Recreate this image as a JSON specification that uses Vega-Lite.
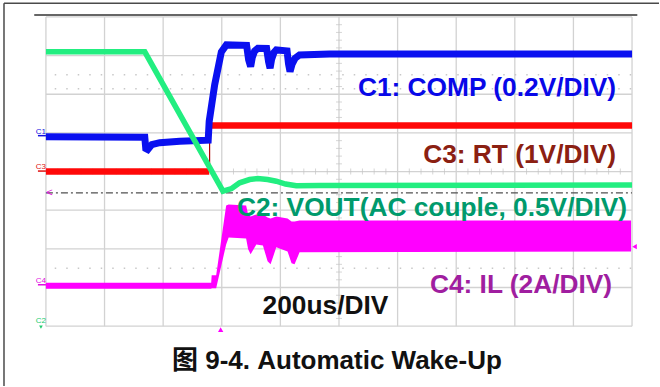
{
"$schema":"https://vega.github.io/schema/vega-lite/v6.json",
"width":660,"height":387,
"autosize":{"type":"fit","contains":"padding"},
"padding":0,
"background":"#ffffff",
"config":{"view":{"stroke":null}},
"encoding":{
 "x":{"field":"t","type":"quantitative","scale":{"domain":[-156.73,2092.0],"nice":false,"zero":false},"axis":null},
 "y":{"field":"d","type":"quantitative","scale":{"domain":[-5.548,4.439],"nice":false,"zero":false},"axis":null}
},
"layer":[
 {"data":{"values":[{"t":-143.1,"t2":2092,"d":4.354}]},"mark":{"type":"rule","color":"#4a4a4a","strokeWidth":1.5},"encoding":{"x2":{"field":"t2"}}},
 {"data":{"values":[{"t":-143.1,"d":4.354,"d2":-5.548}]},"mark":{"type":"rule","color":"#4a4a4a","strokeWidth":1.5},"encoding":{"y2":{"field":"d2"}}},
 {"data":{"values":[{"t":-39.9,"t2":2018,"d":4.052}]},"mark":{"type":"rule","color":"#333333","strokeWidth":1.5},"encoding":{"x2":{"field":"t2"}}},
 {"data":{"values":[{"t":0,"d":-4,"d2":4},{"t":200,"d":-4,"d2":4},{"t":400,"d":-4,"d2":4},{"t":600,"d":-4,"d2":4},{"t":800,"d":-4,"d2":4},{"t":1000,"d":-4,"d2":4},{"t":1200,"d":-4,"d2":4},{"t":1400,"d":-4,"d2":4},{"t":1600,"d":-4,"d2":4},{"t":1800,"d":-4,"d2":4},{"t":2000,"d":-4,"d2":4}]},"mark":{"type":"rule","color":"#d2d2d2","strokeWidth":1.3},"encoding":{"y2":{"field":"d2"}}},
 {"data":{"values":[{"t":0,"t2":2000,"d":-4},{"t":0,"t2":2000,"d":-3},{"t":0,"t2":2000,"d":-2},{"t":0,"t2":2000,"d":-1},{"t":0,"t2":2000,"d":0},{"t":0,"t2":2000,"d":1},{"t":0,"t2":2000,"d":2},{"t":0,"t2":2000,"d":3},{"t":0,"t2":2000,"d":4}]},"mark":{"type":"rule","color":"#d2d2d2","strokeWidth":1.3},"encoding":{"x2":{"field":"t2"}}},
 {"data":{"values":[{"t":40,"d":0},{"t":80,"d":0},{"t":120,"d":0},{"t":160,"d":0},{"t":240,"d":0},{"t":280,"d":0},{"t":320,"d":0},{"t":360,"d":0},{"t":440,"d":0},{"t":480,"d":0},{"t":520,"d":0},{"t":560,"d":0},{"t":640,"d":0},{"t":680,"d":0},{"t":720,"d":0},{"t":760,"d":0},{"t":840,"d":0},{"t":880,"d":0},{"t":920,"d":0},{"t":960,"d":0},{"t":1040,"d":0},{"t":1080,"d":0},{"t":1120,"d":0},{"t":1160,"d":0},{"t":1240,"d":0},{"t":1280,"d":0},{"t":1320,"d":0},{"t":1360,"d":0},{"t":1440,"d":0},{"t":1480,"d":0},{"t":1520,"d":0},{"t":1560,"d":0},{"t":1640,"d":0},{"t":1680,"d":0},{"t":1720,"d":0},{"t":1760,"d":0},{"t":1840,"d":0},{"t":1880,"d":0},{"t":1920,"d":0},{"t":1960,"d":0}]},"mark":{"type":"tick","orient":"vertical","size":6,"thickness":1,"color":"#c4c4c4"}},
 {"data":{"values":[{"t":1000,"d":-3.8},{"t":1000,"d":-3.6},{"t":1000,"d":-3.4},{"t":1000,"d":-3.2},{"t":1000,"d":-2.8},{"t":1000,"d":-2.6},{"t":1000,"d":-2.4},{"t":1000,"d":-2.2},{"t":1000,"d":-1.8},{"t":1000,"d":-1.6},{"t":1000,"d":-1.4},{"t":1000,"d":-1.2},{"t":1000,"d":-0.8},{"t":1000,"d":-0.6},{"t":1000,"d":-0.4},{"t":1000,"d":-0.2},{"t":1000,"d":0.2},{"t":1000,"d":0.4},{"t":1000,"d":0.6},{"t":1000,"d":0.8},{"t":1000,"d":1.2},{"t":1000,"d":1.4},{"t":1000,"d":1.6},{"t":1000,"d":1.8},{"t":1000,"d":2.2},{"t":1000,"d":2.4},{"t":1000,"d":2.6},{"t":1000,"d":2.8},{"t":1000,"d":3.2},{"t":1000,"d":3.4},{"t":1000,"d":3.6},{"t":1000,"d":3.8}]},"mark":{"type":"tick","orient":"horizontal","size":6,"thickness":1,"color":"#c4c4c4"}},
 {"data":{"values":[{"t":30,"t2":2000,"d":2.503},{"t":30,"t2":2000,"d":2.142},{"t":30,"t2":2000,"d":-2.503}]},"mark":{"type":"rule","color":"#c8c8c8","strokeWidth":1.5,"strokeDash":[1.5,10]},"encoding":{"x2":{"field":"t2"}}},
 {"data":{"values":[{"t":0,"t2":2000,"d":-0.55}]},"mark":{"type":"rule","color":"#505050","strokeWidth":1.2,"strokeDash":[7,3,2,3]},"encoding":{"x2":{"field":"t2"}}},
 {"data":{"values":[
  {"t":0,"d":-2.877,"d2":-3.032},{"t":563.9,"d":-2.877,"d2":-3.032},{"t":565.6,"d":-2.684,"d2":-3.019},{"t":580.9,"d":-2.684,"d2":-3.019},
  {"t":615,"d":-0.877,"d2":-1.884},{"t":623.5,"d":-0.852,"d2":-1.703},{"t":683.1,"d":-0.877,"d2":-1.729},{"t":690,"d":-1.11,"d2":-2.013},
  {"t":698.5,"d":-1.161,"d2":-2.142},{"t":717.9,"d":-1.11,"d2":-1.884},{"t":740.4,"d":-1.11,"d2":-1.91},{"t":756.4,"d":-1.187,"d2":-2.323},
  {"t":766.6,"d":-1.213,"d2":-2.4},{"t":786,"d":-1.161,"d2":-1.961},{"t":824.5,"d":-1.213,"d2":-2.065},{"t":838.2,"d":-1.29,"d2":-2.374},
  {"t":848.4,"d":-1.29,"d2":-2.4},{"t":865.4,"d":-1.265,"d2":-2.09},{"t":1996.6,"d":-1.265,"d2":-2.065}]},
  "mark":{"type":"area","color":"#ff00ff","opacity":1},"encoding":{"y2":{"field":"d2"}}},
 {"data":{"values":[{"t":558.5,"d":0.005,"d2":1.192}]},"mark":{"type":"rule","color":"#b00000","strokeWidth":1.2},"encoding":{"y2":{"field":"d2"}}},
 {"data":{"values":[{"seg":"a","t":0,"d":0.005},{"seg":"a","t":557,"d":0.005},{"seg":"b","t":559.5,"d":1.192},{"seg":"b","t":2000,"d":1.192}]},
  "mark":{"type":"line","color":"#ff0808","strokeWidth":6.5},"encoding":{"detail":{"field":"seg"}}},
 {"data":{"values":[
  {"t":0,"d":0.903},{"t":337.3,"d":0.89},{"t":340.7,"d":0.594},{"t":347.5,"d":0.568},{"t":361.2,"d":0.697},{"t":388.4,"d":0.748},{"t":456.6,"d":0.787},{"t":553.7,"d":0.813},
  {"t":557.1,"d":1.298},{"t":575.8,"d":2.245},{"t":598.6,"d":3.097},{"t":615.7,"d":3.277},{"t":684.8,"d":3.265},{"t":691.7,"d":2.89},{"t":698.5,"d":2.717},{"t":704,"d":2.95},{"t":712,"d":3.12},
  {"t":723.3,"d":3.192},{"t":753,"d":3.187},{"t":759.8,"d":2.839},{"t":764.9,"d":2.676},{"t":770,"d":2.9},{"t":778,"d":3.08},{"t":786,"d":3.148},{"t":822.8,"d":3.123},{"t":827.9,"d":2.787},
  {"t":833,"d":2.588},{"t":840,"d":2.78},{"t":850,"d":2.93},{"t":865.4,"d":3.019},{"t":967.6,"d":3.045},{"t":2000,"d":3.045}]},
  "mark":{"type":"line","color":"#0a10f0","strokeWidth":7}},
 {"data":{"values":[
  {"t":0,"d":3.097},{"t":337.3,"d":3.097},{"t":604.1,"d":-0.508},{"t":633.7,"d":-0.439},{"t":661,"d":-0.292},{"t":695,"d":-0.206},{"t":722.3,"d":-0.181},{"t":756.4,"d":-0.206},
  {"t":786,"d":-0.25},{"t":817.7,"d":-0.323},{"t":854.2,"d":-0.369},{"t":933.6,"d":-0.361},{"t":2000,"d":-0.348}]},
  "mark":{"type":"line","color":"#22ee80","strokeWidth":5.5}},
 {"data":{"values":[{"label":"C1: COMP (0.2V/DIV)","t":1945.5,"d":1.948}]},"mark":{"type":"text","align":"right","baseline":"alphabetic","font":"Liberation Sans","fontWeight":"bold","fontSize":26.3,"color":"#0808e8"},"encoding":{"text":{"field":"label"}}},
 {"data":{"values":[{"label":"C3: RT (1V/DIV)","t":1945.5,"d":0.2245}]},"mark":{"type":"text","align":"right","baseline":"alphabetic","font":"Liberation Sans","fontWeight":"bold","fontSize":26.3,"color":"#8b2012"},"encoding":{"text":{"field":"label"}}},
 {"data":{"values":[{"label":"C2: VOUT(AC couple, 0.5V/DIV)","t":1983,"d":-1.153}]},"mark":{"type":"text","align":"right","baseline":"alphabetic","font":"Liberation Sans","fontWeight":"bold","fontSize":26.3,"color":"#009a6c"},"encoding":{"text":{"field":"label"}}},
 {"data":{"values":[{"label":"C4: IL (2A/DIV)","t":1931.9,"d":-3.135}]},"mark":{"type":"text","align":"right","baseline":"alphabetic","font":"Liberation Sans","fontWeight":"bold","fontSize":26.3,"color":"#a01ea0"},"encoding":{"text":{"field":"label"}}},
 {"data":{"values":[{"label":"200us/DIV","t":739.4,"d":-3.69}]},"mark":{"type":"text","align":"left","baseline":"alphabetic","font":"Liberation Sans","fontWeight":"bold","fontSize":26.3,"color":"#111111"},"encoding":{"text":{"field":"label"}}},
 {"data":{"values":[{"label":"图 9-4. Automatic Wake-Up","t":993,"d":-5.11}]},"mark":{"type":"text","align":"center","baseline":"alphabetic","font":"Liberation Sans, Noto Sans CJK SC","fontWeight":"bold","fontSize":26,"color":"#111111"},"encoding":{"text":{"field":"label"}}},
 {"data":{"values":[{"label":"C1","t":-17,"d":0.981}]},"mark":{"type":"text","align":"center","baseline":"alphabetic","font":"Liberation Sans","fontSize":8,"color":"#1010e0"},"encoding":{"text":{"field":"label"}}},
 {"data":{"values":[{"label":"C3","t":-17,"d":0.077}]},"mark":{"type":"text","align":"center","baseline":"alphabetic","font":"Liberation Sans","fontSize":8,"color":"#e01010"},"encoding":{"text":{"field":"label"}}},
 {"data":{"values":[{"label":"C4","t":-17,"d":-2.877}]},"mark":{"type":"text","align":"center","baseline":"alphabetic","font":"Liberation Sans","fontSize":8,"color":"#e010e0"},"encoding":{"text":{"field":"label"}}},
 {"data":{"values":[{"label":"C2","t":-17,"d":-3.91}]},"mark":{"type":"text","align":"center","baseline":"alphabetic","font":"Liberation Sans","fontSize":8,"color":"#22cc70"},"encoding":{"text":{"field":"label"}}},
 {"data":{"values":[{"t":-27.3,"t2":0,"d":0.929}]},"mark":{"type":"rule","color":"#1010e0","strokeWidth":1.5},"encoding":{"x2":{"field":"t2"}}},
 {"data":{"values":[{"t":-27.3,"t2":0,"d":0.013}]},"mark":{"type":"rule","color":"#e01010","strokeWidth":1.5},"encoding":{"x2":{"field":"t2"}}},
 {"data":{"values":[{"t":-27.3,"t2":0,"d":-2.929}]},"mark":{"type":"rule","color":"#e010e0","strokeWidth":1.5},"encoding":{"x2":{"field":"t2"}}},
 {"data":{"values":[{"t":-17,"d":-4.026}]},"mark":{"type":"point","shape":"triangle-down","filled":true,"size":14,"color":"#22cc70","opacity":1}},
 {"data":{"values":[{"label":"<","t":11.9,"d":-0.55}]},"mark":{"type":"text","align":"center","baseline":"middle","font":"Liberation Sans","fontSize":11,"color":"#e010e0"},"encoding":{"text":{"field":"label"}}},
 {"data":{"values":[{"t":596.3,"d":-4.09}]},"mark":{"type":"point","shape":"triangle-up","filled":true,"size":28,"color":"#ff00ff","opacity":1}},
 {"data":{"values":[{"t":2008.5,"d":-1.943}]},"mark":{"type":"point","shape":"triangle-left","filled":true,"size":28,"color":"#ff00ff","opacity":1}}
]
}
